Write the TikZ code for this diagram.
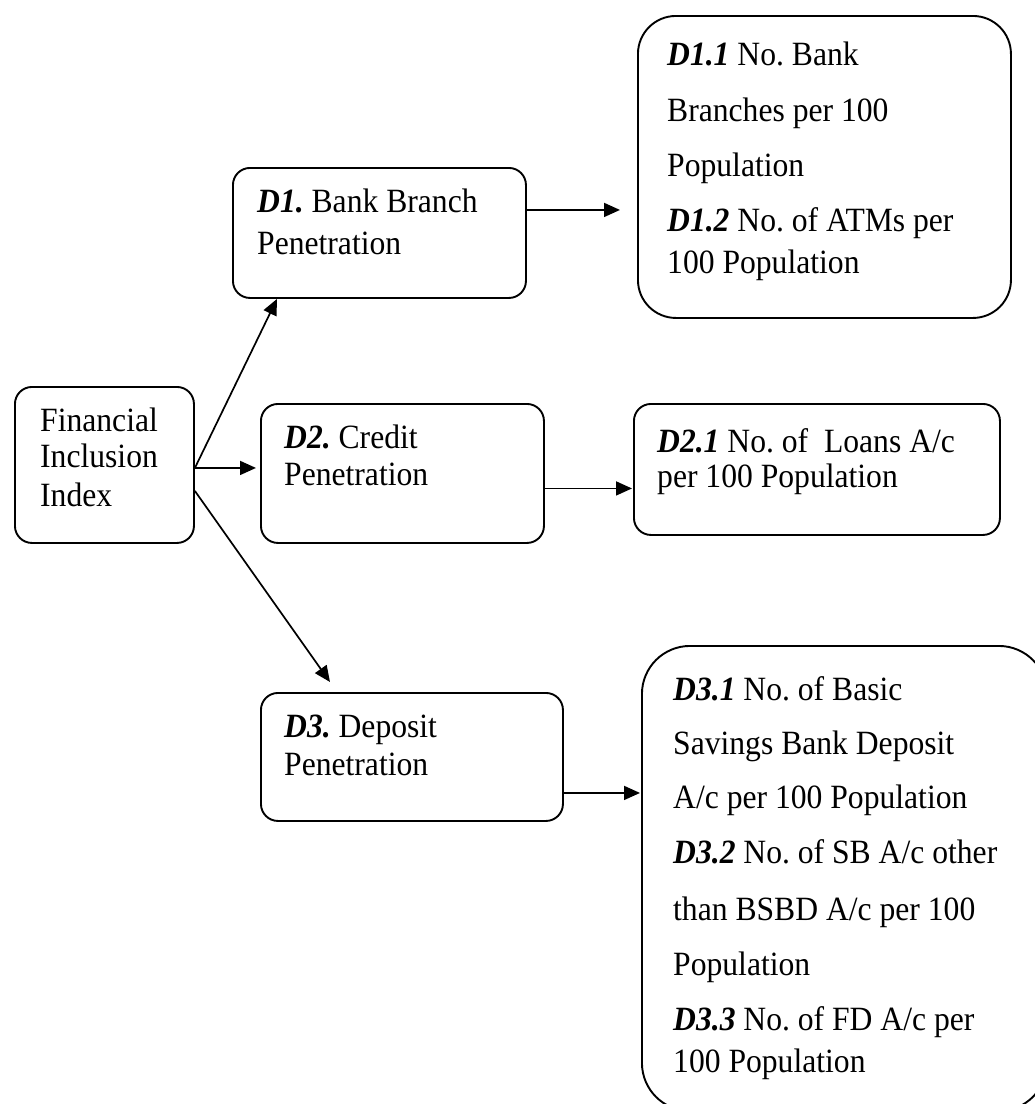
\documentclass[tikz,border=0pt]{standalone}
\usepackage{fontspec}
\setmainfont{Liberation Serif}[FakeStretch=0.93]
\usetikzlibrary{arrows.meta,calc}
\newcommand{\lbl}[1]{\textbf{\textit{#1}}}
\frenchspacing
\begin{document}
\begin{tikzpicture}[x=1pt,y=-1pt,
  box/.style={draw, line width=1.9pt, rounded corners=17pt, inner sep=0pt, anchor=north west},
  bigbox/.style={box, rounded corners=38pt},
  txt/.style={anchor=base west, inner sep=0pt, font=\fontsize{34}{40}\selectfont\frenchspacing},
  arr/.style={line width=1.7pt, -{Triangle[length=16pt,width=14pt]}}]
\useasboundingbox (0,0) rectangle (1035,1104);
\clip (0,0) rectangle (1035,1104);
% boxes
\node[box, minimum width=179pt, minimum height=156pt] (fii) at (14,386) {};
\node[box, minimum width=293pt, minimum height=130pt] (d1) at (232,167) {};
\node[bigbox, minimum width=373pt, minimum height=302pt] (d11) at (637,15) {};
\node[box, minimum width=283pt, minimum height=139pt] (d2) at (260,403) {};
\node[box, minimum width=366pt, minimum height=131pt] (d21) at (633,403) {};
\node[box, minimum width=302pt, minimum height=128pt] (d3) at (260,692) {};
\node[bigbox, rounded corners=48pt, minimum width=405pt, minimum height=465pt] (d31) at (641,645) {};
% texts
\node[txt] (t1) at (40,431) {Financial};
\node[txt] (t2) at (40,467) {Inclusion};
\node[txt] (t3) at (40,506) {Index};
\node[txt] (t4) at (257,212) {\lbl{D1.} Bank Branch};
\node[txt] (t5) at (257,254) {Penetration};
\node[txt] (t6) at (667,65) {\lbl{D1.1} No. Bank};
\node[txt] (t7) at (667,121) {Branches per 100};
\node[txt] (t8) at (667,176) {Population};
\node[txt] (t9) at (667,231) {\lbl{D1.2} No. of ATMs per};
\node[txt] (t10) at (667,273) {100 Population};
\node[txt] (t11) at (284,448) {\lbl{D2.} Credit};
\node[txt] (t12) at (284,485) {Penetration};
\node[txt] (t13) at (657,452) {\lbl{D2.1} No. of\ \ Loans A/c};
\node[txt] (t14) at (657,487) {per 100 Population};
\node[txt] (t15) at (284,737) {\lbl{D3.} Deposit};
\node[txt] (t16) at (284,775) {Penetration};
\node[txt] (t17) at (673,700) {\lbl{D3.1} No. of Basic};
\node[txt] (t18) at (673,754) {Savings Bank Deposit};
\node[txt] (t19) at (673,808) {A/c per 100 Population};
\node[txt] (t20) at (673,863) {\lbl{D3.2} No. of SB A/c other};
\node[txt] (t21) at (673,920) {than BSBD A/c per 100};
\node[txt] (t22) at (673,975) {Population};
\node[txt] (t23) at (673,1030) {\lbl{D3.3} No. of FD A/c per};
\node[txt] (t24) at (673,1072) {100 Population};
% connectors
\coordinate (o1) at ($(fii.east)+(0,3)$);
\coordinate (o3) at ($(fii.east)+(0,26)$);
\draw[arr] (o1) -- ($(d1.south west)+(45,0)$);
\draw[arr] (o1) -- ($(o1 -| d2.west)+(-4,0)$);
\draw[arr] (o3) -- ($(d3.north west)+(70,-10)$);
\coordinate (a1) at ($(d1.east)+(0,-23)$);
\draw[arr] (a1) -- ($(a1 -| d11.west)+(-17,0)$);
\coordinate (a2) at ($(d2.east)+(0,15)$);
\draw[arr] (a2) -- ($(a2 -| d21.west)+(-1,0)$);
\coordinate (a3) at ($(d3.east)+(0,36)$);
\draw[arr] (a3) -- ($(a3 -| d31.west)+(-1,0)$);
\end{tikzpicture}
\end{document}
